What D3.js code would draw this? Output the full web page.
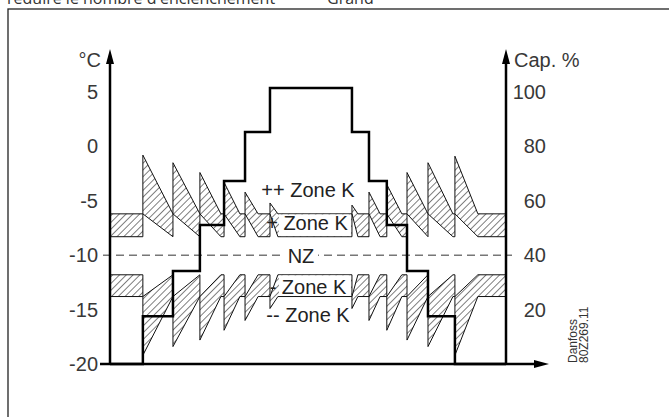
<!DOCTYPE html>
<html>
<head>
<meta charset="utf-8">
<script src="https://cdn.jsdelivr.net/npm/d3@7"></script>
<style>
  body { margin: 0; background: #fff; }
  text { font-family: "Liberation Sans", Arial, sans-serif; }
</style>
</head>
<body>
<div id="chart"></div>
<script>
var width = 669, height = 417;

// axis ticks
var tempTicks = [5, 0, -5, -10, -15, -20];
var capTicks = [100, 80, 60, 40, 20];

// capacity steps (time units 0..100, cap %)
var stepTimes = [0, 8.3, 15.9, 22.7, 28.8, 34.1, 40.4, 61.1, 65.4, 69.9, 75.0, 80.3, 87.1, 100];
var stepCap   = [0, 17.6, 34.2, 51.1, 67.3, 85.3, 101.5, 85.3, 67.3, 51.1, 34.2, 17.6, 0, 0];

// zone bands (deg C)
var plusBand = [-6.2, -8.3];
var minusBand = [-11.8, -13.8];
var nzTemp = -10;

// saw teeth: start time, peak/valley temp, end time
var toothStart = [8.3, 15.9, 22.7, 28.8, 34.1, 40.4, 61.1, 65.4, 69.9, 75.0, 80.3, 87.1];
var toothEnd   = [15.9, 22.7, 28.0, 32.8, 37.4, 42.4, 62.6, 68.2, 73.7, 80.3, 86.6, 92.9];
var upperPeak  = [-0.8, -1.5, -2.4, -3.3, -4.2, -5.2, -5.4, -4.2, -3.5, -2.4, -1.5, -0.9];
var lowerValley = [-19.2, -18.4, -17.8, -16.9, -16.0, -14.9, -14.9, -16.0, -16.9, -17.8, -18.4, -19.2];

var svg = d3.select("#chart").append("svg")
    .attr("width", width)
    .attr("height", height);

var x = d3.scaleLinear().domain([0, 100]).range([110, 506]);
var yT = d3.scaleLinear().domain([-20, 5]).range([364, 92]);
var yC = d3.scaleLinear().domain([0, 100]).range([364, 92]);

// hatch pattern
var defs = svg.append("defs");
defs.append("pattern")
    .attr("id", "hatch")
    .attr("patternUnits", "userSpaceOnUse")
    .attr("width", 4.8).attr("height", 4.8)
    .attr("patternTransform", "rotate(45)")
    .append("line")
    .attr("x1", 0).attr("y1", 0).attr("x2", 0).attr("y2", 4.8)
    .attr("stroke", "#000").attr("stroke-width", 1);

// title line (cut at top) and frame
svg.append("text")
    .attr("x", 7).attr("y", 4)
    .style("font-family", "'Open Sans', sans-serif")
    .style("font-size", "16px")
    .attr("fill", "#333")
    .text("réduire le nombre d'enclenchement");
svg.append("text")
    .attr("x", 327).attr("y", 4)
    .style("font-family", "'Open Sans', sans-serif")
    .style("font-size", "16px")
    .attr("fill", "#333")
    .text("Grand");
svg.append("rect")
    .attr("x", 8).attr("y", 9).attr("width", 700).attr("height", 500)
    .attr("fill", "none").attr("stroke", "#222").attr("stroke-width", 1.3);

var poly = d3.line().x(function(d) { return x(d[0]); }).y(function(d) { return yT(d[1]); });

function upperShape(band) {
    var top = band[0], bot = band[1];
    var tp = [[0, top]], bp = [[0, bot]];
    toothStart.forEach(function(s, i) {
        tp.push([s, top], [s, upperPeak[i]], [toothEnd[i], top]);
        bp.push([s, bot], [s, top], [toothEnd[i], bot]);
    });
    tp.push([100, top]); bp.push([100, bot]);
    return tp.concat(bp.reverse());
}
function lowerShape(band) {
    var top = band[0], bot = band[1];
    var tp = [[0, top]], bp = [[0, bot]];
    toothStart.forEach(function(s, i) {
        tp.push([s, top], [s, bot], [toothEnd[i], top]);
        bp.push([s, bot], [s, lowerValley[i]], [toothEnd[i], bot]);
    });
    tp.push([100, top]); bp.push([100, bot]);
    return tp.concat(bp.reverse());
}

svg.append("path")
    .attr("d", poly(upperShape(plusBand)) + "Z")
    .attr("fill", "url(#hatch)").attr("stroke", "#111").attr("stroke-width", 1);
svg.append("path")
    .attr("d", poly(lowerShape(minusBand)) + "Z")
    .attr("fill", "url(#hatch)").attr("stroke", "#111").attr("stroke-width", 1);

// white label boxes inside the bands
[plusBand, minusBand].forEach(function(b) {
    svg.append("rect")
        .attr("x", x(toothEnd[5]) + 1).attr("y", yT(b[0]) + 0.6)
        .attr("width", x(toothStart[6]) - x(toothEnd[5]) - 2)
        .attr("height", yT(b[1]) - yT(b[0]) - 1.2)
        .attr("fill", "#fff");
});

// NZ dashed line
svg.append("line")
    .attr("x1", 103).attr("x2", 512)
    .attr("y1", yT(nzTemp)).attr("y2", yT(nzTemp))
    .attr("stroke", "#777").attr("stroke-width", 1.5)
    .attr("stroke-dasharray", "8,5");

// capacity step line
var stepData = stepTimes.map(function(t, i) { return [t, stepCap[i]]; });
svg.append("path")
    .attr("d", d3.line().curve(d3.curveStepAfter)
        .x(function(d) { return x(d[0]); })
        .y(function(d) { return yC(d[1]); })(stepData))
    .attr("fill", "none").attr("stroke", "#000").attr("stroke-width", 2.5);

// axes lines with arrows
svg.append("line").attr("x1", 110).attr("x2", 110).attr("y1", 365).attr("y2", 60)
    .attr("stroke", "#000").attr("stroke-width", 2.5);
svg.append("line").attr("x1", 506).attr("x2", 506).attr("y1", 365).attr("y2", 60)
    .attr("stroke", "#000").attr("stroke-width", 2.5);
svg.append("line").attr("x1", 100).attr("x2", 538).attr("y1", 364).attr("y2", 364)
    .attr("stroke", "#000").attr("stroke-width", 2.5);
svg.append("path").attr("d", "M110,49 L106,64 L114,64 Z").attr("fill", "#000");
svg.append("path").attr("d", "M506,49 L502,64 L510,64 Z").attr("fill", "#000");
svg.append("path").attr("d", "M549,364 L534,360 L534,368 Z").attr("fill", "#000");

// tick labels via d3 axes
var leftAxis = svg.append("g")
    .attr("transform", "translate(110,0)")
    .call(d3.axisLeft(yT).tickValues(tempTicks).tickSize(0).tickPadding(12)
        .tickFormat(function(d) { return d; }));
var rightAxis = svg.append("g")
    .attr("transform", "translate(506,0)")
    .call(d3.axisRight(yC).tickValues(capTicks).tickSize(0).tickPadding(40));
[leftAxis, rightAxis].forEach(function(g) {
    g.select(".domain").remove();
    g.selectAll("text")
        .style("font-family", "'Liberation Sans', Arial, sans-serif")
        .style("font-size", "20px")
        .attr("fill", "#383838");
});
rightAxis.selectAll("text").attr("text-anchor", "end");

svg.append("text").attr("x", 101).attr("y", 67).attr("text-anchor", "end")
    .style("font-size", "20px").attr("fill", "#383838").text("°C");
svg.append("text").attr("x", 514).attr("y", 67)
    .style("font-size", "20px").attr("fill", "#383838").text("Cap. %");

// zone labels
svg.append("rect").attr("x", 285).attr("y", yT(nzTemp) - 9).attr("width", 33).attr("height", 18)
    .attr("fill", "#fff");
var labels = [
    { t: "++ Zone K", x: 308, y: 197 },
    { t: "+ Zone K", x: 307, y: 230 },
    { t: "NZ", x: 301, y: 263 },
    { t: "- Zone K", x: 308, y: 294 },
    { t: "-- Zone K", x: 308, y: 322 }
];
svg.selectAll(".zl").data(labels).enter().append("text")
    .attr("class", "zl")
    .attr("x", function(d) { return d.x; })
    .attr("y", function(d) { return d.y; })
    .attr("text-anchor", "middle")
    .style("font-size", "20px").attr("fill", "#222")
    .text(function(d) { return d.t; });

// drawing number
svg.append("text").attr("transform", "translate(577,363) rotate(-90)")
    .style("font-size", "12px").attr("fill", "#333").text("Danfoss");
svg.append("text").attr("transform", "translate(588,363) rotate(-90)")
    .style("font-size", "12px").attr("fill", "#333").text("80Z269.11");
</script>
</body>
</html>
